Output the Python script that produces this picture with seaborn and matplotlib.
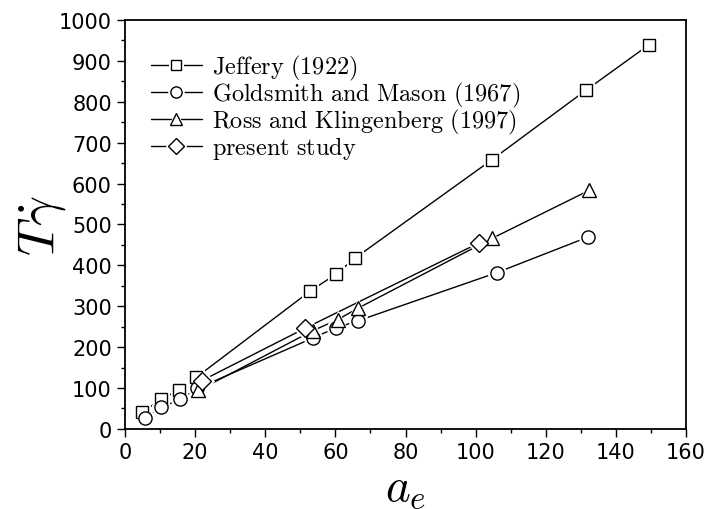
import numpy as np
import pandas as pd
import matplotlib
matplotlib.use("Agg")
import matplotlib.pyplot as plt
import seaborn as sns
from matplotlib.ticker import MultipleLocator
from matplotlib.legend_handler import HandlerTuple

# data
jeffery_x = [4.8, 10.3, 15.4, 20.3, 52.8, 60.1, 65.5, 104.6, 131.6, 149.4]
jeffery_y = [41, 72, 96, 126, 337, 378, 417, 658, 829, 939]

goldsmith_x = [5.7, 10.3, 15.7, 20.6, 53.5, 60.1, 66.3, 106.0, 132.0]
goldsmith_y = [27, 53, 72, 99, 222, 247, 264, 382, 469]

ross_x = [20.9, 53.5, 60.6, 66.4, 104.7, 132.3]
ross_y = [94, 240, 267, 295, 466, 583]

present_x = [21.9, 51.3, 101.0]
present_y = [118, 246, 455]

labels = [r"$\mathrm{Jeffery\ (1922)}$",
          r"$\mathrm{Goldsmith\ and\ Mason\ (1967)}$",
          r"$\mathrm{Ross\ and\ Klingenberg\ (1997)}$",
          r"$\mathrm{present\ study}$"]
markers = ["s", "o", "^", "D"]

sns.set_style("ticks")
plt.rcParams["mathtext.fontset"] = "cm"
plt.rcParams["font.family"] = ["DejaVu Sans"]
plt.rcParams["text.color"] = "black"
plt.rcParams["axes.labelcolor"] = "black"

fig = plt.figure(figsize=(7.08, 5.10), dpi=100)
ax = fig.add_axes([0.1766, 0.157, 0.7924, 0.802])

series = [(jeffery_x, jeffery_y), (goldsmith_x, goldsmith_y),
          (ross_x, ross_y), (present_x, present_y)]
msizes = [8.5, 9.5, 10, 9]
handles = []
for (xs, ys), m, ms in zip(series, markers, msizes):
    # connecting line
    sns.lineplot(x=xs, y=ys, ax=ax, color="black", lw=1, sort=False, zorder=2)
    line = ax.lines[-1]
    # white halo so the line stops short of each marker
    sns.lineplot(x=xs, y=ys, ax=ax, linestyle="", marker=m, markersize=ms + 3.5,
                 markerfacecolor="white", markeredgecolor="white",
                 sort=False, zorder=3)
    halo = ax.lines[-1]
    sns.lineplot(x=xs, y=ys, ax=ax, linestyle="", marker=m, markersize=ms,
                 markerfacecolor="white", markeredgecolor="black",
                 markeredgewidth=1, sort=False, zorder=4)
    mk = ax.lines[-1]
    handles.append((line, halo, mk))

ax.set_xlim(0, 160)
ax.set_ylim(0, 1000)
ax.xaxis.set_major_locator(MultipleLocator(20))
ax.xaxis.set_minor_locator(MultipleLocator(10))
ax.yaxis.set_major_locator(MultipleLocator(100))
ax.yaxis.set_minor_locator(MultipleLocator(50))
ax.tick_params(which="major", direction="out", length=6, width=1,
               labelsize=15, top=False, right=False, colors="black")
ax.tick_params(which="minor", direction="out", length=3, width=1,
               top=False, right=False, colors="black")
for s in ax.spines.values():
    s.set_linewidth(1.3)
    s.set_color("black")

ax.set_xlabel(r"$a_e$", fontsize=34, labelpad=2)
ax.set_ylabel(r"$T\dot{\gamma}$", fontsize=38, va="center")
ax.yaxis.set_label_coords(-0.148, 0.5)

leg = ax.legend(handles, labels, loc="upper left", bbox_to_anchor=(0.02, 0.955),
                frameon=False, fontsize=17.5, handlelength=2.1,
                handletextpad=0.4, labelspacing=-0.08, borderaxespad=0.2,
                markerscale=0.85, handler_map={tuple: HandlerTuple(ndivide=1)})

fig.savefig("out.png", dpi=100)
